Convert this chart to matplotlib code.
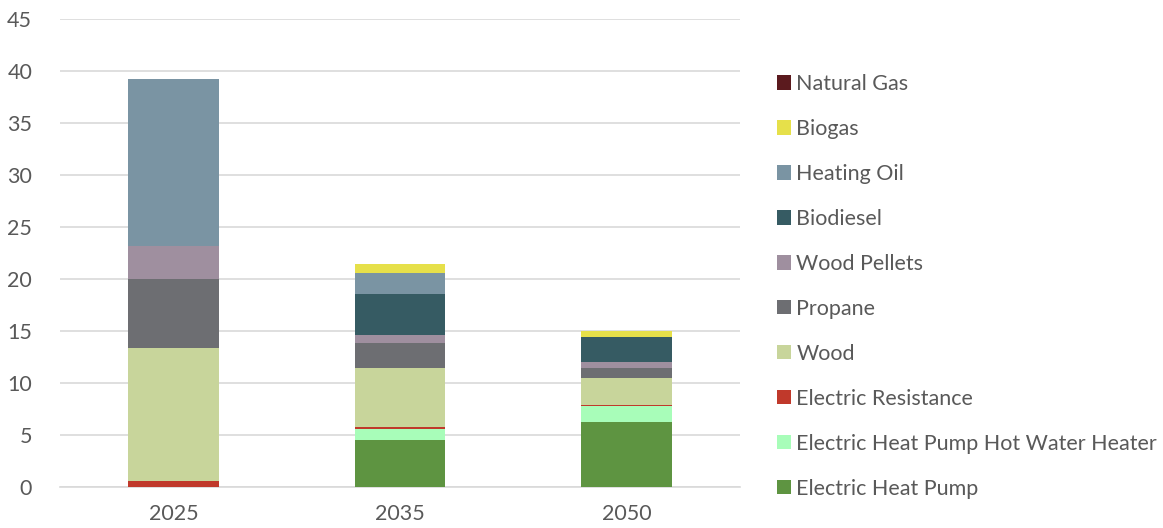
import numpy as np
import matplotlib.pyplot as plt
from matplotlib.patches import Patch

plt.rcParams['font.family'] = ['Lato', 'DejaVu Sans']

years = ['2025', '2035', '2050']

# stacked bottom-to-top
categories = ['Electric Heat Pump', 'Electric Heat Pump Hot Water Heater',
              'Electric Resistance', 'Wood', 'Propane', 'Wood Pellets',
              'Biodiesel', 'Heating Oil', 'Biogas', 'Natural Gas']

electric_heat_pump = [0.0, 4.5, 6.25]
hp_water_heater = [0.0, 1.05, 1.5]
electric_resistance = [0.55, 0.2, 0.12]
wood = [12.8, 5.65, 2.6]
propane = [6.65, 2.45, 0.95]
wood_pellets = [3.2, 0.8, 0.6]
biodiesel = [0.0, 3.95, 2.45]
heating_oil = [16.0, 2.0, 0.0]
biogas = [0.0, 0.85, 0.5]
natural_gas = [0.0, 0.0, 0.0]

colors = ['#5e9441', '#a8fdb9', '#c0392b', '#c8d59b', '#6d6e72',
          '#9f8f9f', '#365b63', '#7a94a3', '#e6e04a', '#5b1a1e']

series = [electric_heat_pump, hp_water_heater, electric_resistance, wood,
          propane, wood_pellets, biodiesel, heating_oil, biogas, natural_gas]

fig = plt.figure(figsize=(11.63, 5.28), dpi=100)
ax = fig.add_axes([60 / 1163, 41 / 528, 680 / 1163, 468 / 528])

x = np.arange(len(years))
bottom = np.zeros(len(years))
for vals, c in zip(series, colors):
    vals = np.array(vals)
    ax.bar(x, vals, width=0.4, bottom=bottom, color=c, zorder=3)
    bottom += vals

ax.set_xlim(-0.5, 2.5)
ax.set_ylim(0, 45)
ax.set_yticks(range(0, 46, 5))
ax.set_xticks(x)
ax.set_xticklabels(years)
ax.yaxis.grid(True, color='#d9d9d9', linewidth=1.2, zorder=0)
ax.set_axisbelow(True)
for s in ['top', 'right', 'left']:
    ax.spines[s].set_visible(False)
ax.spines['bottom'].set_color('#d9d9d9')
ax.spines['bottom'].set_linewidth(1.2)
ax.tick_params(axis='both', length=0, labelsize=15.5, colors='#595959')
ax.tick_params(axis='y', pad=20)
ax.tick_params(axis='x', pad=12)

handles = [Patch(facecolor=c, label=l) for c, l in zip(colors, categories)]
fig.legend(handles=handles[::-1], loc='upper left',
           bbox_to_anchor=(777 / 1163, 1 - 74 / 528), frameon=False,
           fontsize=15.5, labelcolor='#595959', handlelength=0.65,
           handleheight=0.65, handletextpad=0.25, labelspacing=1.16,
           borderaxespad=0, borderpad=0)

fig.savefig('out.png', dpi=100)
